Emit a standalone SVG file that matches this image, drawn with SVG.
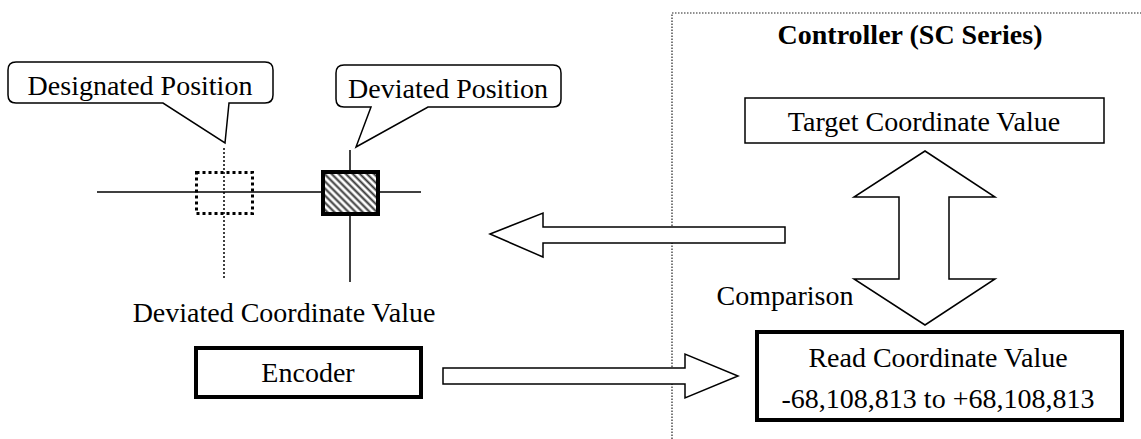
<svg xmlns="http://www.w3.org/2000/svg" width="1141" height="439" viewBox="0 0 1141 439">
  <style>
    text { font-family: "Liberation Serif", "Times New Roman", serif; font-size: 28px; fill: #000; text-anchor: middle; }
    .bold { font-weight: bold; }
    .thin { fill: #fff; stroke: #000; stroke-width: 1.5; }
    .thick { fill: #fff; stroke: #000; stroke-width: 4; }
    .line { stroke: #000; stroke-width: 1.5; fill: none; }
    .arrow { fill: #fff; stroke: #000; stroke-width: 1.5; stroke-linejoin: miter; }
  </style>
  <defs>
    <pattern id="hatch" patternUnits="userSpaceOnUse" width="5" height="5" patternTransform="rotate(-45)">
      <rect width="5" height="5" fill="#fff"/>
      <line x1="1.5" y1="0" x2="1.5" y2="5" stroke="#333" stroke-width="2"/>
    </pattern>
  </defs>
  <rect width="1141" height="439" fill="#fff"/>

  <g id="controller-region">
    <path d="M672,439 V13 H1141" fill="none" stroke="#222" stroke-width="1.2" stroke-dasharray="1.5 1.5"/>
    <text class="bold" x="910" y="44">Controller (SC Series)</text>
  </g>

  <g id="cross-diagram">
    <line class="line" x1="97" y1="192" x2="421" y2="192"/>
    <line x1="224" y1="148" x2="224" y2="278" stroke="#000" stroke-width="1.5" stroke-dasharray="2 2"/>
    <line class="line" x1="350" y1="150" x2="350" y2="282"/>
  </g>

  <g id="designated-marker">
    <rect x="196.5" y="172.5" width="56" height="41" fill="none" stroke="#000" stroke-width="3" stroke-dasharray="3 3"/>
  </g>

  <g id="deviated-marker">
    <rect x="323" y="172" width="55" height="42" fill="url(#hatch)" stroke="#000" stroke-width="4"/>
  </g>

  <g id="designated-callout">
    <path class="thin" d="M16,62 H265 Q273,62 273,70 V95 Q273,103 265,103 H229 L225,143 L163,103 H16 Q8,103 8,95 V70 Q8,62 16,62 Z"/>
    <text x="140" y="95">Designated Position</text>
  </g>

  <g id="deviated-callout">
    <path class="thin" d="M344,65 H553 Q561,65 561,73 V99 Q561,107 553,107 H428 L356,147 L371,107 H344 Q336,107 336,99 V73 Q336,65 344,65 Z"/>
    <text x="448" y="98">Deviated Position</text>
  </g>

  <g id="deviated-coordinate-label">
    <text x="284" y="322">Deviated Coordinate Value</text>
  </g>

  <g id="encoder">
    <rect class="thick" x="196" y="348" width="225" height="49" stroke-width="3.5"/>
    <text x="308" y="382">Encoder</text>
  </g>

  <g id="target-coordinate">
    <rect class="thin" x="745" y="98" width="359" height="45"/>
    <text x="924" y="131">Target Coordinate Value</text>
  </g>

  <g id="read-coordinate">
    <rect class="thick" x="757" y="332" width="365" height="88"/>
    <text x="938" y="367">Read Coordinate Value</text>
    <text x="938" y="408">-68,108,813 to +68,108,813</text>
  </g>

  <g id="comparison-label">
    <text x="785" y="305">Comparison</text>
  </g>

  <g id="connectors">
    <polygon class="arrow" points="490,234 543,213 543,227 785,227 785,243 543,243 543,257"/>
    <polygon class="arrow" points="443,368 685,368 685,354 738,376 685,398 685,384 443,384"/>
    <polygon class="arrow" points="925,151 995,197 949,197 949,279 995,279 925,325 854,279 899,279 899,197 854,197"/>
  </g>
</svg>
